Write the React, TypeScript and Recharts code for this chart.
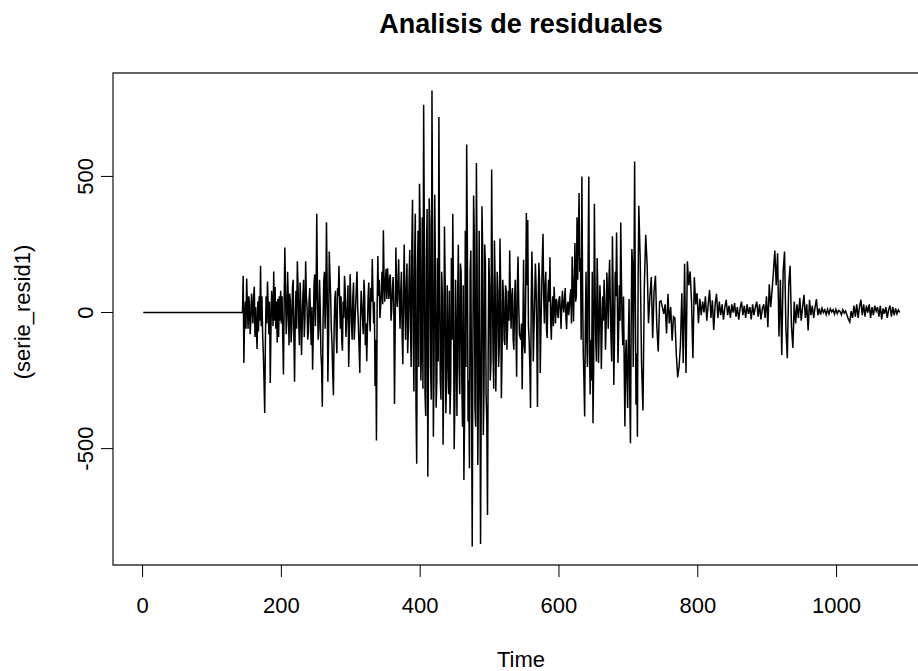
import { LineChart, Line, XAxis, YAxis, ReferenceArea } from 'recharts';

// flat start of the series (no residuals before t=145)
const leadTime = [1, 144];
const leadResid = [0, 0];

// residual segments: first time, time step
const resid145 = [
  135, -185, -20, 40, -60, 125, 30, -60, 60, 30,
  -80, -30, 70, 20, -40, 60, 95, -90, 20, -60,
  -134, 40, -70, 60, -30, 172, -50, 60, -80, -150,
  -250, -369, -100, 60, -40, 114, 20, -80, 40, -259,
  -60, 80, 30, -50, 151, -30, 94, -60, 40, -110,
  50, -90, 60, -30, 80, -40,
];
const resid201 = [
  60, -90, -228, 30, 239, 80, -80, -20, 150, 40,
  -120, 70, 40, -110, -60, 90, 120, -80, -254, -30,
  80, -60, 188, 100, -40, -120, 110, 30, -156, -50,
  60, 120, -90, -20, 188, 60, 20, -100, -70, 50,
  90, -40, -120, 20, -210, -80, 100, 140, -50, 60,
  363, 80, -100, -60, 120, 20, -150, -200, -346, -50,
  110, 150, -60, 40, 332, 100, -254, -100, 224, 140,
  60, -60, -120, -220, -304, -60, 50, 80, -80, -150,
  90, 60, 172, 30, -60, 60, -100, -140, 40, -20,
  135, 80, -90, -30, 30, 100, -200, -80, 141, 50,
  -40, -100, 60, 110, -100, -40, 20, 90, 151, 20,
  -50, -130, -222, -20, 80, 30, -30, -80, 120, 60,
  -120, -40, -179, -60, 60, 110, -20, -70, 90, 40,
  197, 60, -40, 40, -270, -100, -470, 20, 208, 60,
  120, -20, 20, 80, 150, 30, 302, 110, 40, 120,
  160, 50, 163, 100, 50, 130, 140, -30, 10, 90,
  130, 20, -336, -60, 239, 80, 20, 110, 196, 40,
  -60, 80,
];
const resid373 = [
  150, -80, -190, 60, 250, 40, -100, 90, 180, -150,
  -60, 120, 230, -50, -200, 250, 414, -100, -290, 200,
  363, -350, -556, 150, 300, -200, 473, 320, -250, -120,
  350, -280, 763, 300, -300, -380, 200, 380, -603, -150,
  420, 330, -200, -320, 816, 250, -456, -200, 433, 150,
  -350, -250, 200, -180, 718, 100, -250, -320, 150, 60,
  -486, -200, 316, 120, -370, -250, 100, -150, -300, 80,
  -375, -260, 200, -100, 363, 50, -502, -330, 120, -100,
  -380, 60, 249, -200, -300, 180, 150, -250, -420, 100,
  -615, -380, 300, -200, 617, 250, -400, -250, -572, 150,
  228, -300, -860, -120, 430, 280, -350, -420, 549, 200,
  -560, -300, 300, -150, -850, -300, 390, 250, -450, -280,
  250, 180, -300, -400, -744, -150, 200, 100, -250, -180,
  525, 150, -150, -280, 265, 120, -290, -100, 150, 80,
  -200, -120, 272, 100, -315, -150, 120, 60, -100, -120,
  100, 80, -137, -50, 80, -30, 228, 50, -60, 60,
  90, -100, -137, 40, 120, -60, -236, 100, 206, 30,
  -80,
];
const resid545 = [
  -100, -40, -282, -60, 194, -120, -150, 60, 366, 100,
  340, -50, -100, -200, -351, 40, 224, 80, -180, -60,
  50, 180, 102, -80, -347, 30, 183, 120, -222, -60,
  80, 200, 289, 60, -40, 100, 150, -60, -94, 60,
  120, 40, 203, -30, -100, 20, 60, -50, 95, 30,
  -40, 50, 40, -10, -20, 50, 60, 10, -60, 30,
  80, 20, 0, 50, 90, -20, -61, 30, 40, -10,
  20, 60, 85, -40, 206, 80, -33, 120, 255, 40,
  60, 350, 120, 280, 439, 150, 200, -100, 500, 100,
  -149, -250, -382, -50, 150, -100, -200, 200, 500, -150,
  -301, -100, -250, 150, -407, -200, 400, 100, -100, -180,
  200, 80, -185, -60, 100, 20, -207, -80, 59, -30,
  120, 30, -137, -40, 147, 60, -60, 120, 194, 30,
  -100, -180, 280, 80, -266, -100, 150, 60, 294, 80,
  -185, -60, 100, -30, 331, 120, -50, -120, 59, -200,
  -419, -150, -100, -250, -351, -100, 50, -300, -480, -60,
  233, 180, -200, 100, 555, 60, -339, -150, -456, 100,
  392,
];
const resid717 = [
  200, -190, -360, 100, 286, 175, -39, 60, 130, -94,
  80, 135, -50, -143, 40, 43, 20, -5, 30, -77,
  69, -40, 20, -104, -15, -20, -150, -238, -200, -120,
  71, -185, 179, -222, 188, 100, 151, 40, -168, 130,
  30, 71, -39, 50, -10, 40, 0, 60, -30, 30,
  83, -20, 45, -64, 30, 69, -20, 40, -10, 30,
  -26, 20, 47, -10, 25, -20, 30, 0, 35, -15,
  20, -26, 15, 40, -10, 25, -20, 30, -5, 20,
  -25, 30, -10, 20, 40, -15, 30, -25, 15, 30,
  -20, 60, -54, 104, 20, 80, 150, 228, 100, 218,
  -88,
];
const resid919 = [
  120, -156, 150, 224, -60, -168, 100, 172, -50, -130,
  40, -40, 30, -20, 53, -30, 20, 65, -20, 30,
  -66, 47, -10, 25, -20, 20, 49, -10, 15, -8,
  16, 0, 10, -8, 12, -5, 14, 2, 10, -6,
  12, -4, 8, 4, -8, 10, -2, 6, -10, -25,
  -35, 5, -20, 25, -15, 30, -20, 20, 47, -10,
  30, -15, 25, 0, 30, -20, 20, -10, 25, 5,
  20, -15, 25, -25, 15, -5, 20, -20, 10, 25,
  -15, 20, -10, 15, -5, 10, 0,
];

const segStart = [145, 201, 373, 545, 717, 919];
const segStep = [1, 1, 1, 1, 2, 2];
const segValues = [resid145, resid201, resid373, resid545, resid717, resid919];

const xTicks = [0, 200, 400, 600, 800, 1000];
const yTicks = [-500, 0, 500];

const data = [
  ...leadTime.map((t, i) => ({ time: t, value: leadResid[i] })),
  ...segValues.flatMap((vals, s) =>
    vals.map((v, i) => ({ time: segStart[s] + i * segStep[s], value: v }))
  ),
];

const FONT = '"Liberation Sans", Arial, sans-serif';
const X_DOMAIN = [-42.6, 1134.6];
const Y_DOMAIN = [-927.6, 880];

const XTick = ({ x, y, payload }: any) => (
  <text x={x} y={y + 36} textAnchor="middle" fontSize={22} fontFamily={FONT} fill="#000">
    {payload.value}
  </text>
);

const YTick = ({ x, y, payload }: any) => (
  <text
    x={x - 8}
    y={y}
    textAnchor="middle"
    fontSize={22}
    fontFamily={FONT}
    fill="#000"
    transform={`rotate(-90, ${x - 8}, ${y})`}
  >
    {payload.value}
  </text>
);

export default function App() {
  return (
    <div
      style={{
        position: 'fixed',
        left: 0,
        top: 0,
        width: 918,
        height: 671,
        overflow: 'hidden',
        background: '#fff',
      }}
    >
      <LineChart
        width={940}
        height={671}
        data={data}
        margin={{ top: 73, right: 10, bottom: 0, left: 0 }}
      >
        <XAxis
          dataKey="time"
          type="number"
          domain={X_DOMAIN}
          ticks={xTicks}
          height={106}
          axisLine={false}
          tickLine={{ stroke: '#000', strokeWidth: 1 }}
          tickSize={12}
          tickMargin={0}
          tick={XTick}
          interval={0}
          allowDataOverflow
        />
        <YAxis
          dataKey="value"
          type="number"
          domain={Y_DOMAIN}
          ticks={yTicks}
          width={113}
          axisLine={false}
          tickLine={{ stroke: '#000', strokeWidth: 1 }}
          tickSize={12}
          tickMargin={0}
          tick={YTick}
          interval={0}
          allowDataOverflow
        />
        <ReferenceArea
          x1={X_DOMAIN[0]}
          x2={X_DOMAIN[1]}
          y1={Y_DOMAIN[0]}
          y2={Y_DOMAIN[1]}
          fill="none"
          stroke="#333"
          strokeWidth={1.4}
          ifOverflow="visible"
        />
        <Line
          dataKey="value"
          stroke="#000"
          strokeWidth={1.5}
          dot={false}
          isAnimationActive={false}
        />
      </LineChart>
      <svg
        width={918}
        height={671}
        style={{ position: 'absolute', left: 0, top: 0, pointerEvents: 'none' }}
      >
        <text x={521} y={33} textAnchor="middle" fontSize={27} fontWeight="bold" fontFamily={FONT} fill="#000">
          Analisis de residuales
        </text>
        <text x={521} y={667} textAnchor="middle" fontSize={22} fontFamily={FONT} fill="#000">
          Time
        </text>
        <text
          x={30}
          y={312}
          textAnchor="middle"
          fontSize={22}
          fontFamily={FONT}
          fill="#000"
          transform="rotate(-90, 30, 312)"
        >
          (serie_resid1)
        </text>
      </svg>
    </div>
  );
}
